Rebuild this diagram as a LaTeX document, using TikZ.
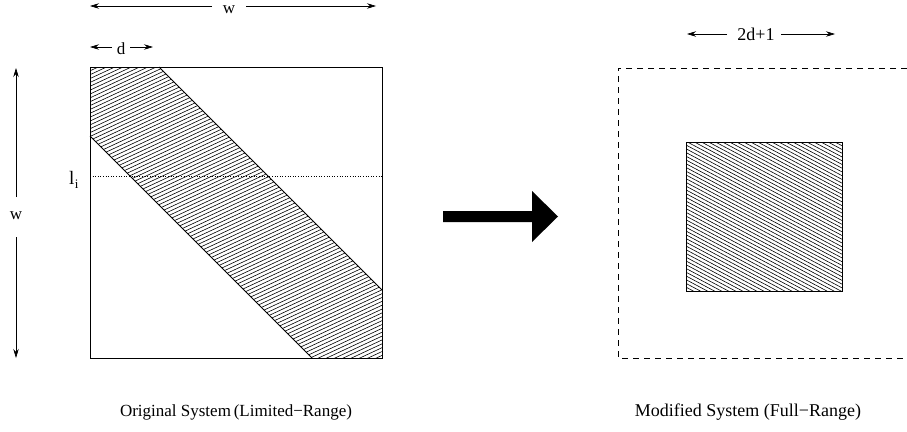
\documentclass[tikz,border=0pt]{standalone}
\usepackage{fontspec}
\setmainfont{Liberation Serif}
\usetikzlibrary{arrows.meta}
\tikzset{
  dimarrow/.style={-{Stealth[length=9pt,width=5.5pt,inset=3pt]},line width=0.7pt},
  lbl/.style={inner sep=0pt,font=\fontsize{17}{19}\selectfont},
  caption/.style={inner sep=0pt,font=\fontsize{18}{20}\selectfont},
  frame/.style={draw,line width=0.8pt},
  hatchline/.style={line width=0.6pt},
}
\begin{document}
\begin{tikzpicture}[x=1pt,y=-1pt]
\useasboundingbox (0,0) rectangle (907,431);
% left square
\coordinate (A) at (90,67);
\coordinate (B) at (382,358);
\begin{scope}
  \clip (90,67) -- (159,67) -- (382,290) -- (382,358) -- (312,358) -- (90,136) -- cycle;
  \foreach \k in {0,...,112} {
    \draw[hatchline] (90,{67+3.86*\k}) -- (382,{67+3.86*\k-136.2});
  }
\end{scope}
\draw[line width=0.8pt] (159,67) -- (382,290);
\draw[line width=0.8pt] (90,136) -- (312,358);
\draw[frame] (A) rectangle (B);
% dotted line
\coordinate (L1) at (90,176);
\coordinate (L2) at (382,176);
\draw[dotted,line width=0.6pt] (L1) -- (L2);
\node[lbl,anchor=base west,font=\fontsize{19}{21}\selectfont] (li) at (69,184) {l\kern0.5pt\raisebox{-4.5pt}{\fontsize{13}{14}\selectfont i}};
% top w
\node[lbl,anchor=base] (wt) at (229,13) {w};
\coordinate (wt1) at (212,6);
\coordinate (wt2) at (246,6);
\coordinate (wtL) at (90,6);
\coordinate (wtR) at (376,6);
\draw[dimarrow] (wt1) -- (wtL);
\draw[dimarrow] (wt2) -- (wtR);
% d
\node[lbl,anchor=base] (dl) at (121,54) {d};
\coordinate (d1) at (112,47);
\coordinate (d2) at (130,47);
\coordinate (dL) at (90,47);
\coordinate (dR) at (153,47);
\draw[dimarrow] (d1) -- (dL);
\draw[dimarrow] (d2) -- (dR);
% left vertical w
\node[lbl] (wl) at (16,216) {w};
\coordinate (wv1) at (16,197);
\coordinate (wv2) at (16,237);
\coordinate (wvT) at (16,68);
\coordinate (wvB) at (16,358);
\draw[dimarrow] (wv1) -- (wvT);
\draw[dimarrow] (wv2) -- (wvB);
% big arrow
\fill (443,211) -- (532,211) -- (532,191) -- (558,216.5) -- (532,242) -- (532,222) -- (443,222) -- cycle;
% right side: dashed frame (right edge off the page)
\draw[line width=0.6pt,dash pattern=on 6pt off 5pt] (907,68) -- (618,68) -- (618,358) -- (907,358);
% inner square
\coordinate (C) at (686,142);
\coordinate (D) at (842,291);
\begin{scope}
  \clip (C) rectangle (D);
  \foreach \k in {0,...,65} {
    \draw[hatchline] (686,{59+3.74*\k}) -- (842,{59+3.74*\k+83});
  }
\end{scope}
\draw[frame] (C) rectangle (D);
% 2d+1
\node[lbl,anchor=base,font=\fontsize{18}{20}\selectfont] (tw) at (756,40) {2d+1};
\coordinate (t1) at (727,34);
\coordinate (t2) at (781,34);
\coordinate (tL) at (687,34);
\coordinate (tR) at (835,34);
\draw[dimarrow] (t1) -- (tL);
\draw[dimarrow] (t2) -- (tR);
% captions
\node[caption,font=\fontsize{17}{19}\selectfont] (cap1) at (236,412) {Original System\,(Limited−Range)};
\node[caption] (cap2) at (748,412) {Modified System (Full−Range)};
\end{tikzpicture}
\end{document}
